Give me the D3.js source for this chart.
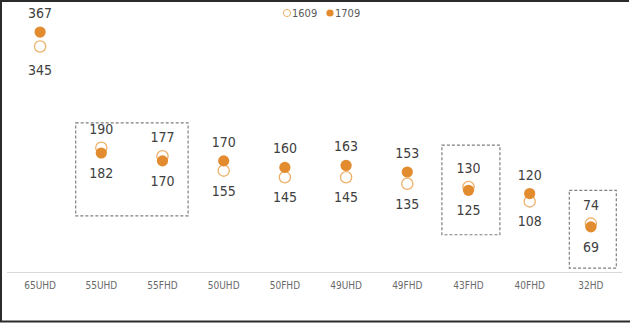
<!DOCTYPE html>
<html>
<head>
<meta charset="utf-8">
<script src="https://cdn.jsdelivr.net/npm/d3@7"></script>
<style>
	body { margin: 0; background: #fff; }
	svg { display: block; }
	text { font-family: "Liberation Sans Narrow", "Arial Narrow", "DejaVu Sans Condensed", sans-serif; }
</style>
</head>
<body>
<svg id="chart" width="630" height="323"></svg>
<script>
// TV model price comparison, 1609 vs 1709.
var models = ['65UHD', '55UHD', '55FHD', '50UHD', '50FHD', '49UHD', '49FHD', '43FHD', '40FHD', '32HD'];
var series1609 = [345, 190, 177, 155, 145, 145, 135, 130, 108, 74];
var series1709 = [367, 182, 170, 170, 160, 163, 153, 125, 120, 69];
var seriesNames = ['1609', '1709'];

// Highlighted groups (dashed boxes), given as model span and value span.
var boxFrom = ['55UHD', '43FHD', '32HD'];
var boxTo = ['55FHD', '43FHD', '32HD'];
var boxHigh = [228, 194, 125];
var boxLow = [86, 57, 6];

var width = 630, height = 323;
var svg = d3.select('#chart');

var x = d3.scaleBand().domain(models).range([9.5, 621.5]);
var y = d3.scaleLinear().domain([0, 400]).range([272, 10.5]);

var orange = '#e38b2f';
var lightOrange = '#eeb06a';
var labelColor = '#404040';

// Frame on left, top and bottom.
svg.append('path')
	.attr('d', 'M' + (width - 1) + ',1H1V' + (height - 1.5) + 'H' + width)
	.attr('fill', 'none')
	.attr('stroke', '#2b2b2b')
	.attr('stroke-width', 2);

// Category axis.
var xAxis = svg.append('g')
	.attr('transform', 'translate(0,' + y(0) + ')')
	.call(d3.axisBottom(x).tickSize(0).tickPadding(10));
xAxis.select('.domain').attr('stroke', '#d9d9d9').attr('d', 'M7,0.5H622');
xAxis.selectAll('text')
	.attr('fill', '#6a6a6a')
	.style('font-size', '10px');

// Dashed highlight boxes.
var boxes = boxFrom.map(function(d, i) {
	return {from: d, to: boxTo[i], hi: boxHigh[i], lo: boxLow[i]};
});
svg.append('g').selectAll('rect')
	.data(boxes)
	.enter().append('rect')
	.attr('x', function(d) {
		return x(d.from) + (d.from === d.to ? (d.from === '32HD' ? 9 : 4) : 5);
	})
	.attr('width', function(d) {
		if (d.from === d.to) return d.from === '32HD' ? 47 : 58;
		return x(d.to) + x.bandwidth() - 5 - (x(d.from) + 5);
	})
	.attr('y', function(d) { return y(d.hi); })
	.attr('height', function(d) { return y(d.lo) - y(d.hi); })
	.attr('fill', 'none')
	.attr('stroke', '#7f7f7f')
	.attr('stroke-width', 1.2)
	.attr('stroke-dasharray', '3,2');

// Points.
var points = models.map(function(m, i) {
	return {model: m, a: series1609[i], b: series1709[i]};
});
var cx = function(d) { return x(d.model) + x.bandwidth() / 2; };

var g = svg.append('g');
g.selectAll('circle.s1609')
	.data(points)
	.enter().append('circle')
	.attr('class', 's1609')
	.attr('cx', cx)
	.attr('cy', function(d) { return y(d.a); })
	.attr('r', 5.6)
	.attr('fill', '#fff')
	.attr('stroke', lightOrange)
	.attr('stroke-width', 1.3);
g.selectAll('circle.s1709')
	.data(points)
	.enter().append('circle')
	.attr('class', 's1709')
	.attr('cx', cx)
	.attr('cy', function(d) { return y(d.b); })
	.attr('r', 5.6)
	.attr('fill', orange);

// Labels: higher value above its marker, lower value below.
var labels = [];
points.forEach(function(d) {
	var hi = Math.max(d.a, d.b), lo = Math.min(d.a, d.b);
	labels.push({model: d.model, value: hi, dy: -14, far: false});
	labels.push({model: d.model, value: lo, dy: 25, far: d.model === '65UHD'});
});
svg.append('g').selectAll('text')
	.data(labels)
	.enter().append('text')
	.attr('x', cx)
	.attr('y', function(d) { return y(d.value) + d.dy + (d.far ? 4 : 0); })
	.attr('text-anchor', 'middle')
	.attr('fill', labelColor)
	.style('font-size', '14px')
	.text(function(d) { return d.value; });

// Legend.
var legend = svg.append('g').attr('transform', 'translate(287,13)');
var items = legend.selectAll('g')
	.data(seriesNames)
	.enter().append('g')
	.attr('transform', function(d, i) { return 'translate(' + (i * 43) + ',0)'; });
items.append('circle')
	.attr('r', 3.6)
	.attr('fill', function(d, i) { return i === 0 ? '#fff' : orange; })
	.attr('stroke', function(d, i) { return i === 0 ? lightOrange : 'none'; })
	.attr('stroke-width', 1);
items.append('text')
	.attr('x', 5)
	.attr('y', 4)
	.attr('fill', '#595959')
	.style('font-size', '11px')
	.text(function(d) { return d; });
</script>
</body>
</html>
